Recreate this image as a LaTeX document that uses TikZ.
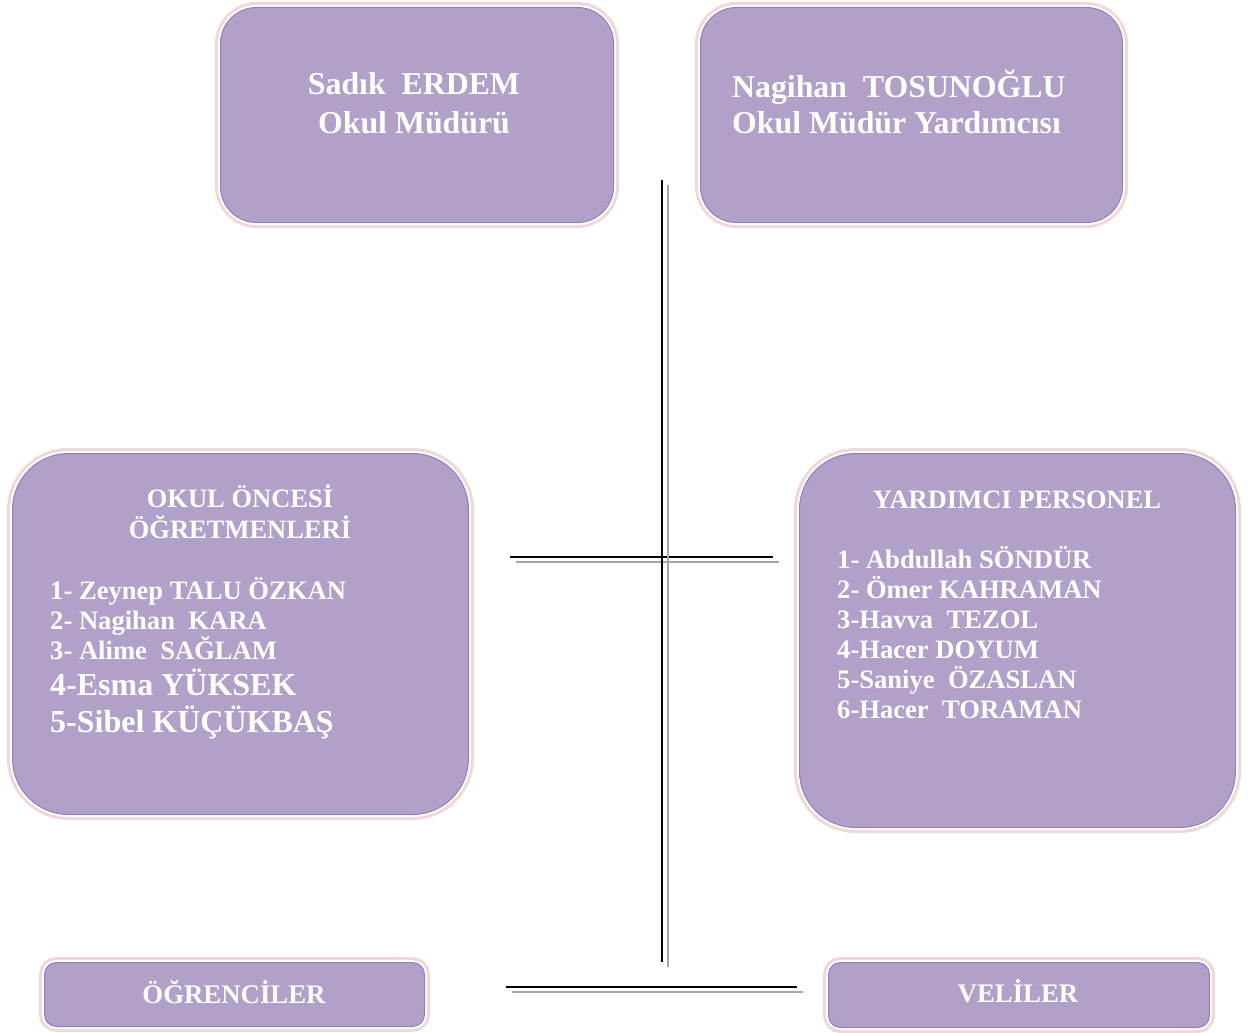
\documentclass[tikz,border=0pt]{standalone}
\usepackage{fontspec}
\setmainfont{Liberation Serif}
\usetikzlibrary{calc,positioning}

\definecolor{boxfill}{HTML}{B1A0C7}
\definecolor{boxpink}{HTML}{F0D8D7}
\definecolor{boxline}{HTML}{8E80C0}
\definecolor{shadowgrey}{HTML}{A6A6A6}

\tikzset{
  orgbox/.style={rectangle, fill=boxfill, draw=boxline, line width=1pt, inner sep=0pt,
    preaction={draw=boxpink, line width=11pt},
    preaction={draw=white, line width=5pt}},
  bigtext/.style={text=white, inner sep=0pt, anchor=base, font=\bfseries\fontsize{31.8}{38}\selectfont},
  headtext/.style={text=white, inner sep=0pt, anchor=base, font=\bfseries\fontsize{26.5}{31}\selectfont},
  listtext/.style={text=white, inner sep=0pt, anchor=base west, font=\bfseries\fontsize{26.6}{30}\selectfont},
  biglist/.style={listtext, font=\bfseries\fontsize{32}{36}\selectfont},
  rule/.style={line width=2pt, black},
  shadowrule/.style={line width=2pt, shadowgrey}
}

\begin{document}
\begin{tikzpicture}[x=1pt,y=-1pt]
\useasboundingbox (0,0) rectangle (1254,1033);
% kutular
\node[orgbox, rounded corners=36pt, minimum width=393pt, minimum height=215pt] (mudur) at (417,115) {};
\node[orgbox, rounded corners=36pt, minimum width=422pt, minimum height=215pt] (yardimci) at (911.5,115) {};
\node[orgbox, rounded corners=56pt, minimum width=456pt, minimum height=361pt] (ogretmen) at (240.5,634) {};
\node[orgbox, rounded corners=56pt, minimum width=436pt, minimum height=374pt] (personel) at (1017.5,640.5) {};
\node[orgbox, rounded corners=12pt, minimum width=380pt, minimum height=64pt] (ogrenci) at (234.5,994.5) {};
\node[orgbox, rounded corners=12pt, minimum width=381pt, minimum height=65pt] (veli) at (1019,995) {};

% yazilar
\node[bigtext] (mudurad) at (414,95) {Sadık~ ERDEM};
\node[bigtext] (mudurgorev) at (414,133) {Okul Müdürü};
\node[bigtext, anchor=base west] (yardimciad) at (732,97) {Nagihan~ TOSUNOĞLU};
\node[bigtext, anchor=base west] (yardimcigorev) at (732,133) {Okul Müdür Yardımcısı};

\node[headtext] (ogretmenbaslik1) at (240,507) {OKUL ÖNCESİ};
\node[headtext] (ogretmenbaslik2) at (240,538) {ÖĞRETMENLERİ};
\foreach \y/\ad [count=\i] in {599/{1- Zeynep TALU ÖZKAN},629/{2- Nagihan~ KARA},659/{3- Alime~ SAĞLAM}}
  \node[listtext] (ogretmen\i) at (50,\y) {\ad};
\node[biglist] (ogretmen4) at (50,695) {4-Esma YÜKSEK};
\node[biglist] (ogretmen5) at (50,732) {5-Sibel KÜÇÜKBAŞ};

\node[headtext] (personelbaslik) at (1017,508) {YARDIMCI PERSONEL};
\foreach \ad [count=\i] in {{1- Abdullah SÖNDÜR},{2- Ömer KAHRAMAN},{3-Havva~ TEZOL},{4-Hacer DOYUM},{5-Saniye~ ÖZASLAN},{6-Hacer~ TORAMAN}}
  \node[listtext] (personel\i) at (837,538+30*\i) {\ad};

\node[headtext, font=\bfseries\fontsize{26.8}{30}\selectfont] (ogrenciad) at (234,1003) {ÖĞRENCİLER};
\node[headtext, font=\bfseries\fontsize{26.8}{30}\selectfont] (veliad) at (1018,1002) {VELİLER};

% cizgiler
\coordinate (ortasol) at (510,557);
\coordinate (ortasag) at (773,557);
\coordinate (altsol) at (506,987);
\coordinate (altsag) at (797,987);
\coordinate (dikust) at (662,180);
\coordinate (dikalt) at (662,962);
\foreach \a/\b in {ortasol/ortasag,altsol/altsag,dikust/dikalt}{
  \draw[shadowrule] ($(\a)+(5.5,5)$) -- ($(\b)+(5.5,5)$);
  \draw[rule] (\a) -- (\b);
}
\end{tikzpicture}
\end{document}
